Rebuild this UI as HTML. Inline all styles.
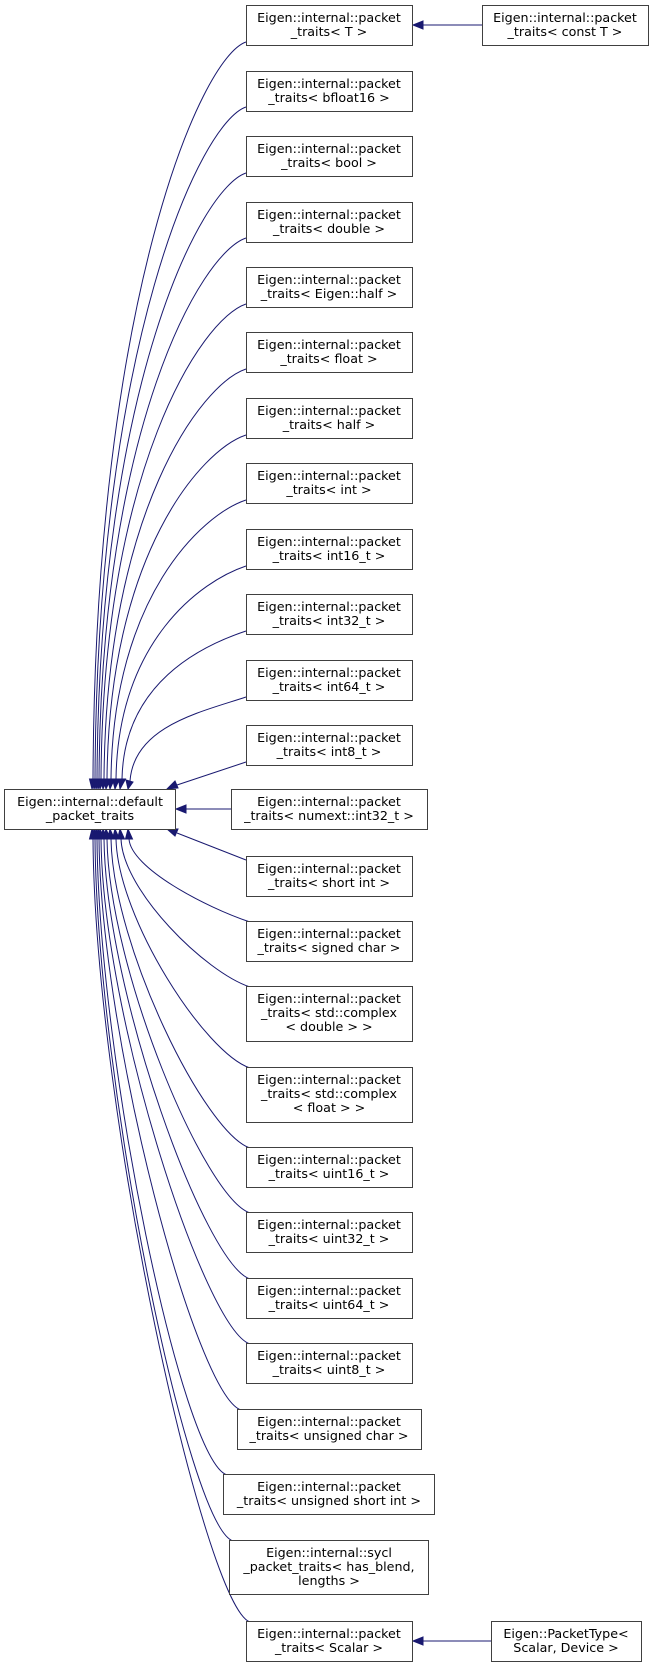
<!DOCTYPE html>
<html><head><meta charset="utf-8"><style>
html,body{margin:0;padding:0;background:#fff;}
svg{display:block;}
text{font-family:"DejaVu Sans","Liberation Sans",sans-serif;font-size:12.7px;fill:#000;text-anchor:middle;}
rect{fill:#fff;stroke:#404040;stroke-width:1;}
path{fill:none;stroke:#191970;stroke-width:1;}
polygon{fill:#191970;stroke:#191970;}
</style></head><body>
<svg width="655" height="1667" viewBox="0 0 655 1667" xmlns="http://www.w3.org/2000/svg">
<path d="M246,42 C201,57 95,300 93,779"/><polygon points="89.5,779 96.5,779 92,789"/>
<path d="M246,107 C201,122 97,342 95,779"/><polygon points="91.5,779 98.5,779 94,789"/>
<path d="M246,173 C201,188 99,385 97,779"/><polygon points="93.5,779 100.5,779 96,789"/>
<path d="M246,238 C201,253 101,427 99,779"/><polygon points="95.5,779 102.5,779 98,789"/>
<path d="M246,304 C201,319 103,470 101,779"/><polygon points="97.5,779 104.5,779 100,789"/>
<path d="M246,369 C201,384 106,512 104,779"/><polygon points="100.5,779 107.5,779 103,789"/>
<path d="M246,435 C201,450 109,555 107,779"/><polygon points="103.5,779 110.5,779 106,789"/>
<path d="M246,500 C201,515 113,598 111,779"/><polygon points="107.5,779 114.5,779 110,789"/>
<path d="M246,566 C201,581 118,641 116,779"/><polygon points="112.5,779 119.5,779 115,789"/>
<path d="M246,631 C201,646 124,683 122,779"/><polygon points="118.5,779 125.5,779 120,789"/>
<path d="M246,697 C201,712 134,726 130,781"/><polygon points="126,780 133,782 128,789"/>
<path d="M246,762 L177,785"/><polygon points="175,781 178,788 167,789"/>
<path d="M231,809 L176,809"/><polygon points="186,805 186,813 176,809"/>
<path d="M246,860 L177,833"/><polygon points="178,829 175,836 167,829"/>
<path d="M250,922 C205,907 131,868 129,839"/><polygon points="125.5,839 132.5,839 128,829"/>
<path d="M250,987 C205,972 123,891 121,839"/><polygon points="117.5,839 124.5,839 120,829"/>
<path d="M250,1068 C205,1053 118,919 116,839"/><polygon points="112.5,839 119.5,839 115,829"/>
<path d="M250,1148 C205,1133 113,947 111,839"/><polygon points="107.5,839 114.5,839 110,829"/>
<path d="M250,1213 C205,1198 109,970 107,839"/><polygon points="103.5,839 110.5,839 106,829"/>
<path d="M250,1279 C205,1264 106,993 104,839"/><polygon points="100.5,839 107.5,839 103,829"/>
<path d="M250,1344 C205,1329 103,1017 101,839"/><polygon points="97.5,839 104.5,839 100,829"/>
<path d="M241,1410 C196,1395 101,1039 99,839"/><polygon points="95.5,839 102.5,839 98,829"/>
<path d="M227,1475 C182,1460 99,1062 97,839"/><polygon points="93.5,839 100.5,839 96,829"/>
<path d="M233,1541 C188,1526 97,1085 95,839"/><polygon points="91.5,839 98.5,839 94,829"/>
<path d="M250,1622 C205,1607 95,1113 93,839"/><polygon points="89.5,839 96.5,839 92,829"/>
<path d="M482,25 L423,25"/><polygon points="423,21 423,29 413,25"/>
<path d="M491,1641 L423,1641"/><polygon points="423,1637 423,1645 413,1641"/>

<rect x="4.5" y="789.5" width="171" height="40"/><text x="90" y="806">Eigen::internal::default</text><text x="90" y="820">_packet_traits</text>

<rect x="246.5" y="5.5" width="166" height="40"/><text x="329" y="22">Eigen::internal::packet</text><text x="329" y="36">_traits&lt; T &gt;</text>
<rect x="482.5" y="5.5" width="166" height="40"/><text x="565" y="22">Eigen::internal::packet</text><text x="565" y="36">_traits&lt; const T &gt;</text>
<rect x="246.5" y="71.5" width="166" height="40"/><text x="329" y="88">Eigen::internal::packet</text><text x="329" y="102">_traits&lt; bfloat16 &gt;</text>
<rect x="246.5" y="136.5" width="166" height="40"/><text x="329" y="153">Eigen::internal::packet</text><text x="329" y="167">_traits&lt; bool &gt;</text>
<rect x="246.5" y="202.5" width="166" height="40"/><text x="329" y="219">Eigen::internal::packet</text><text x="329" y="233">_traits&lt; double &gt;</text>
<rect x="246.5" y="267.5" width="166" height="40"/><text x="329" y="284">Eigen::internal::packet</text><text x="329" y="298">_traits&lt; Eigen::half &gt;</text>
<rect x="246.5" y="332.5" width="166" height="40"/><text x="329" y="349">Eigen::internal::packet</text><text x="329" y="363">_traits&lt; float &gt;</text>
<rect x="246.5" y="398.5" width="166" height="40"/><text x="329" y="415">Eigen::internal::packet</text><text x="329" y="429">_traits&lt; half &gt;</text>
<rect x="246.5" y="463.5" width="166" height="40"/><text x="329" y="480">Eigen::internal::packet</text><text x="329" y="494">_traits&lt; int &gt;</text>
<rect x="246.5" y="529.5" width="166" height="40"/><text x="329" y="546">Eigen::internal::packet</text><text x="329" y="560">_traits&lt; int16_t &gt;</text>
<rect x="246.5" y="594.5" width="166" height="40"/><text x="329" y="611">Eigen::internal::packet</text><text x="329" y="625">_traits&lt; int32_t &gt;</text>
<rect x="246.5" y="660.5" width="166" height="40"/><text x="329" y="677">Eigen::internal::packet</text><text x="329" y="691">_traits&lt; int64_t &gt;</text>
<rect x="246.5" y="725.5" width="166" height="40"/><text x="329" y="742">Eigen::internal::packet</text><text x="329" y="756">_traits&lt; int8_t &gt;</text>
<rect x="231.5" y="789.5" width="196" height="40"/><text x="329" y="806">Eigen::internal::packet</text><text x="329" y="820">_traits&lt; numext::int32_t &gt;</text>
<rect x="246.5" y="856.5" width="166" height="40"/><text x="329" y="873">Eigen::internal::packet</text><text x="329" y="887">_traits&lt; short int &gt;</text>
<rect x="246.5" y="921.5" width="166" height="40"/><text x="329" y="938">Eigen::internal::packet</text><text x="329" y="952">_traits&lt; signed char &gt;</text>
<rect x="246.5" y="986.5" width="166" height="55"/><text x="329" y="1003">Eigen::internal::packet</text><text x="329" y="1017">_traits&lt; std::complex</text><text x="329" y="1031">&lt; double &gt; &gt;</text>
<rect x="246.5" y="1067.5" width="166" height="55"/><text x="329" y="1084">Eigen::internal::packet</text><text x="329" y="1098">_traits&lt; std::complex</text><text x="329" y="1112">&lt; float &gt; &gt;</text>
<rect x="246.5" y="1147.5" width="166" height="40"/><text x="329" y="1164">Eigen::internal::packet</text><text x="329" y="1178">_traits&lt; uint16_t &gt;</text>
<rect x="246.5" y="1212.5" width="166" height="40"/><text x="329" y="1229">Eigen::internal::packet</text><text x="329" y="1243">_traits&lt; uint32_t &gt;</text>
<rect x="246.5" y="1278.5" width="166" height="40"/><text x="329" y="1295">Eigen::internal::packet</text><text x="329" y="1309">_traits&lt; uint64_t &gt;</text>
<rect x="246.5" y="1343.5" width="166" height="40"/><text x="329" y="1360">Eigen::internal::packet</text><text x="329" y="1374">_traits&lt; uint8_t &gt;</text>
<rect x="237.5" y="1409.5" width="184" height="40"/><text x="329" y="1426">Eigen::internal::packet</text><text x="329" y="1440">_traits&lt; unsigned char &gt;</text>
<rect x="223.5" y="1474.5" width="211" height="40"/><text x="329" y="1491">Eigen::internal::packet</text><text x="329" y="1505">_traits&lt; unsigned short int &gt;</text>
<rect x="229.5" y="1540.5" width="199" height="54"/><text x="329" y="1557">Eigen::internal::sycl</text><text x="329" y="1571">_packet_traits&lt; has_blend,</text><text x="329" y="1585">lengths &gt;</text>
<rect x="246.5" y="1621.5" width="166" height="40"/><text x="329" y="1638">Eigen::internal::packet</text><text x="329" y="1652">_traits&lt; Scalar &gt;</text>
<rect x="491.5" y="1621.5" width="150" height="40"/><text x="566" y="1638">Eigen::PacketType&lt;</text><text x="566" y="1652">Scalar, Device &gt;</text>
</svg>
</body></html>
